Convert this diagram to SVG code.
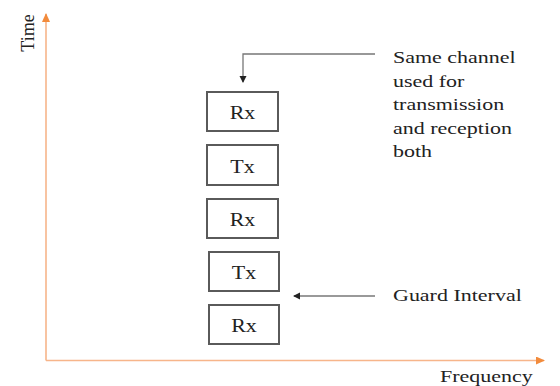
<svg xmlns="http://www.w3.org/2000/svg" width="560" height="386" viewBox="0 0 560 386">
<style>
text{font-family:"Liberation Serif","Times New Roman",serif;font-size:22px;fill:#222}
.box{fill:#fff;stroke:#5a5a5a;stroke-width:2}
.axis{stroke:#f7b58a;stroke-width:1.6;fill:none}
.call{stroke:#777;stroke-width:1.3;fill:none}
.c{text-anchor:middle}
</style>
<defs>
<marker id="oa" markerWidth="10" markerHeight="10" refX="8" refY="4" orient="auto" markerUnits="userSpaceOnUse">
<path d="M0,0 L9,4 L0,8 Z" fill="#f28b3c"/>
</marker>
<marker id="ga" markerWidth="8" markerHeight="8" refX="6" refY="3.5" orient="auto" markerUnits="userSpaceOnUse">
<path d="M0,0 L7,3.5 L0,7 Z" fill="#222"/>
</marker>
</defs>
<rect width="560" height="386" fill="#fff"/>
<g id="axes">
<line class="axis" x1="46" y1="360.5" x2="46" y2="14" marker-end="url(#oa)"/>
<line class="axis" x1="46" y1="360.5" x2="544" y2="360.5" marker-end="url(#oa)"/>
<text class="c" transform="translate(34,33) rotate(-90) scale(0.82,0.85)">Time</text>
<text transform="translate(440,382) scale(1,0.8)">Frequency</text>
</g>
<g id="rx1"><rect class="box" x="207" y="92" width="71" height="39"/><text class="c" transform="translate(242.5,119) scale(1,0.82)">Rx</text></g>
<g id="tx1"><rect class="box" x="207" y="145" width="71" height="40"/><text class="c" transform="translate(242.5,172.5) scale(1,0.82)">Tx</text></g>
<g id="rx2"><rect class="box" x="207" y="199" width="71" height="39"/><text class="c" transform="translate(242.5,226) scale(1,0.82)">Rx</text></g>
<g id="tx2"><rect class="box" x="209" y="252" width="70" height="39"/><text class="c" transform="translate(244,279) scale(1,0.82)">Tx</text></g>
<g id="rx3"><rect class="box" x="209" y="305" width="70" height="39"/><text class="c" transform="translate(244,332) scale(1,0.82)">Rx</text></g>
<g id="connectors">
<polyline class="call" points="375,54 243,54 243,82" marker-end="url(#ga)"/>
<line class="call" x1="375" y1="296" x2="294" y2="296" marker-end="url(#ga)"/>
</g>
<g id="labels">
<text transform="translate(393,63) scale(1,0.8)">Same channel</text>
<text transform="translate(393,86.5) scale(1,0.8)">used for</text>
<text transform="translate(393,110) scale(1,0.8)">transmission</text>
<text transform="translate(393,133.5) scale(1,0.8)">and reception</text>
<text transform="translate(393,157) scale(1,0.8)">both</text>
<text transform="translate(393,301) scale(1,0.8)">Guard Interval</text>
</g>
</svg>
